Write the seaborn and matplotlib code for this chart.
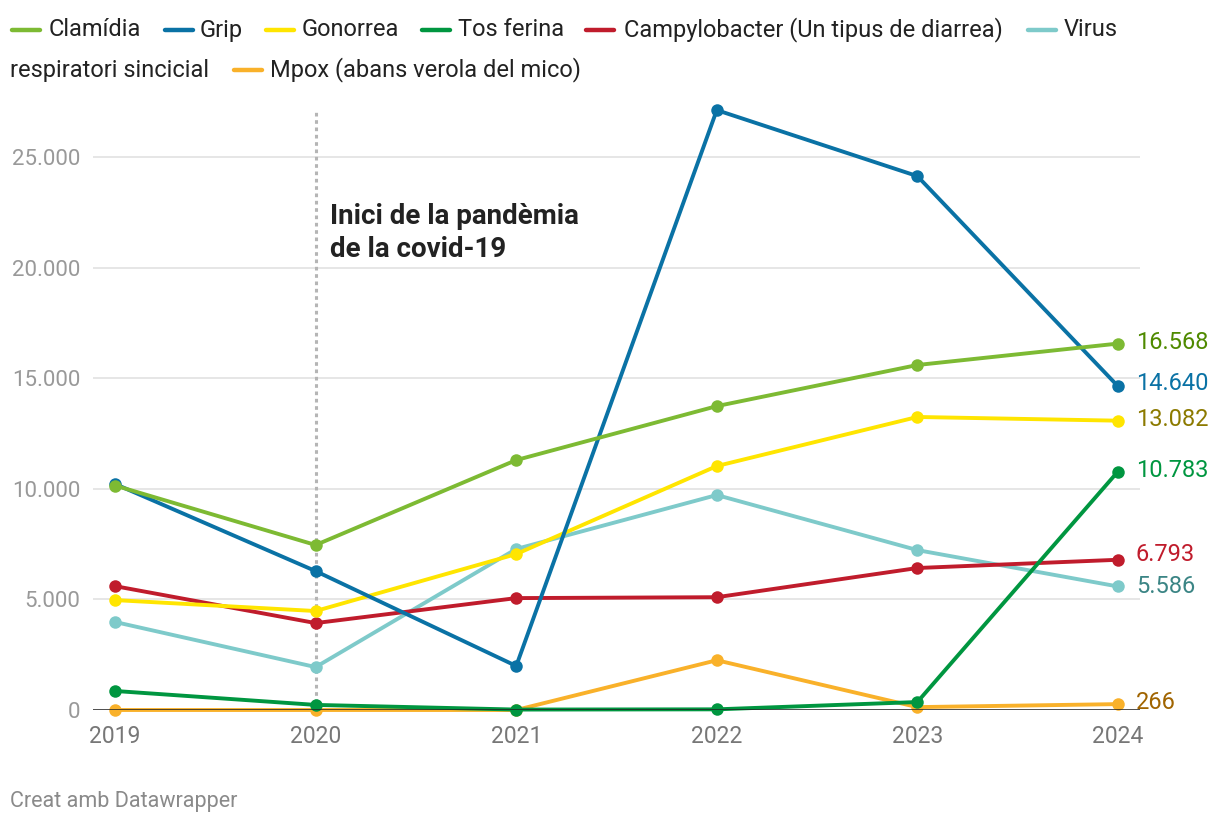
import matplotlib
matplotlib.use("Agg")
import matplotlib.pyplot as plt
from matplotlib.lines import Line2D
import seaborn as sns
import pandas as pd

# Casos declarats per any
anys = [2019, 2020, 2021, 2022, 2023, 2024]
clamidia = [10150, 7460, 11300, 13740, 15600, 16568]
grip = [10220, 6280, 1990, 27125, 24140, 14640]
gonorrea = [4970, 4475, 7050, 11030, 13250, 13082]
tos_ferina = [860, 230, 20, 30, 360, 10783]
campylobacter = [5600, 3930, 5060, 5100, 6420, 6793]
virus_rs = [3980, 1940, 7280, 9720, 7230, 5586]
mpox = [0, 0, 0, 2250, 130, 266]

noms = ["Clamídia", "Grip", "Gonorrea", "Tos ferina",
        "Campylobacter (Un tipus de diarrea)", "Virus respiratori sincicial",
        "Mpox (abans verola del mico)"]
series = [clamidia, grip, gonorrea, tos_ferina, campylobacter, virus_rs, mpox]
colors = ["#7dba33", "#0a72a5", "#ffe500", "#009640", "#c01c2c", "#7ecaca", "#f9b12a"]
label_colors = ["#4f8a00", "#0a72a5", "#8c7a00", "#009640", "#c01c2c", "#3b8585", "#a06400"]
label_offsets = [1, 2, 1, 1, 4, 0, 1]  # points, to avoid overlaps

df = pd.DataFrame({
    "any": anys * len(noms),
    "casos": [v for s in series for v in s],
    "malaltia": [n for n in noms for _ in anys],
})

plt.rcParams["font.family"] = ["Roboto", "DejaVu Sans"]

fig = plt.figure(figsize=(12.2, 8.26), dpi=100)
ax = fig.add_axes([93 / 1220, 116 / 826, 1047 / 1220, 600 / 826])

# lines drawn last-first so Clamídia ends on top like the original
for nom, col in reversed(list(zip(noms, colors))):
    sub = df[df["malaltia"] == nom]
    sns.lineplot(data=sub, x="any", y="casos", color=col, linewidth=2.8,
                 marker="o", markersize=9, markeredgewidth=0, ax=ax,
                 legend=False, clip_on=False)

ax.set_xlim(2018.89, 2024.11)
ax.set_ylim(0, 27130)
ax.set_xticks(anys)
ax.set_xticklabels([str(a) for a in anys])
yt = [0, 5000, 10000, 15000, 20000, 25000]
ax.set_yticks(yt)
ax.set_yticklabels([f"{v:,}".replace(",", ".") for v in yt])
ax.tick_params(axis="y", length=0, labelsize=16, labelcolor="#999999", pad=9)
ax.tick_params(axis="x", length=0, labelsize=16.5, labelcolor="#777777", pad=11)
ax.grid(axis="y", color="#e2e2e2", linewidth=1.2)
ax.set_axisbelow(True)
for sp in ax.spines.values():
    sp.set_visible(False)
ax.axhline(0, color="#222222", linewidth=1.8, zorder=2.5)
ax.set_xlabel("")
ax.set_ylabel("")

# pandemic marker
ax.axvline(2020, color="#b5b5b5", linewidth=2.2, linestyle=(0, (1.2, 1.2)), zorder=1)
ax.text(2020.07, 21975, "Inici de la pandèmia", fontsize=20,
        fontweight="bold", color="#222222", va="baseline", ha="left")
ax.text(2020.07, 20480, "de la covid-19", fontsize=20,
        fontweight="bold", color="#222222", va="baseline", ha="left")

# end labels
for s, nom, lc, off in zip(series, noms, label_colors, label_offsets):
    ax.annotate(f"{s[-1]:,}".replace(",", "."), xy=(anys[-1], s[-1]),
                xytext=(13, off), textcoords="offset points", va="center",
                ha="left", fontsize=17, color=lc, annotation_clip=False)

# legend (wrapped like the original)
row1 = 30 / 826
row2 = 70 / 826
items = [
    (10, 49, row1, colors[0], "Clamídia"),
    (163, 200, row1, colors[1], "Grip"),
    (264, 302, row1, colors[2], "Gonorrea"),
    (420, 458, row1, colors[3], "Tos ferina"),
    (584, 624, row1, colors[4], "Campylobacter (Un tipus de diarrea)"),
    (1026, 1064, row1, colors[5], "Virus"),
    (232, 270, row2, colors[6], "Mpox (abans verola del mico)"),
]
for kx, tx, yy, col, txt in items:
    fig.add_artist(Line2D([(kx + 2) / 1220, (kx + 30) / 1220], [1 - yy, 1 - yy],
                          color=col, linewidth=3.2, solid_capstyle="round"))
    fig.text(tx / 1220, 1 - yy, txt, fontsize=17, color="#222222",
             va="center", ha="left")
fig.text(10 / 1220, 1 - row2, "respiratori sincicial", fontsize=17,
         color="#222222", va="center", ha="left")

fig.text(10 / 1220, 1 - 802 / 826, "Creat amb Datawrapper", fontsize=15.5,
         color="#8a8a8a", va="center", ha="left")

fig.savefig("out.png", dpi=100)
